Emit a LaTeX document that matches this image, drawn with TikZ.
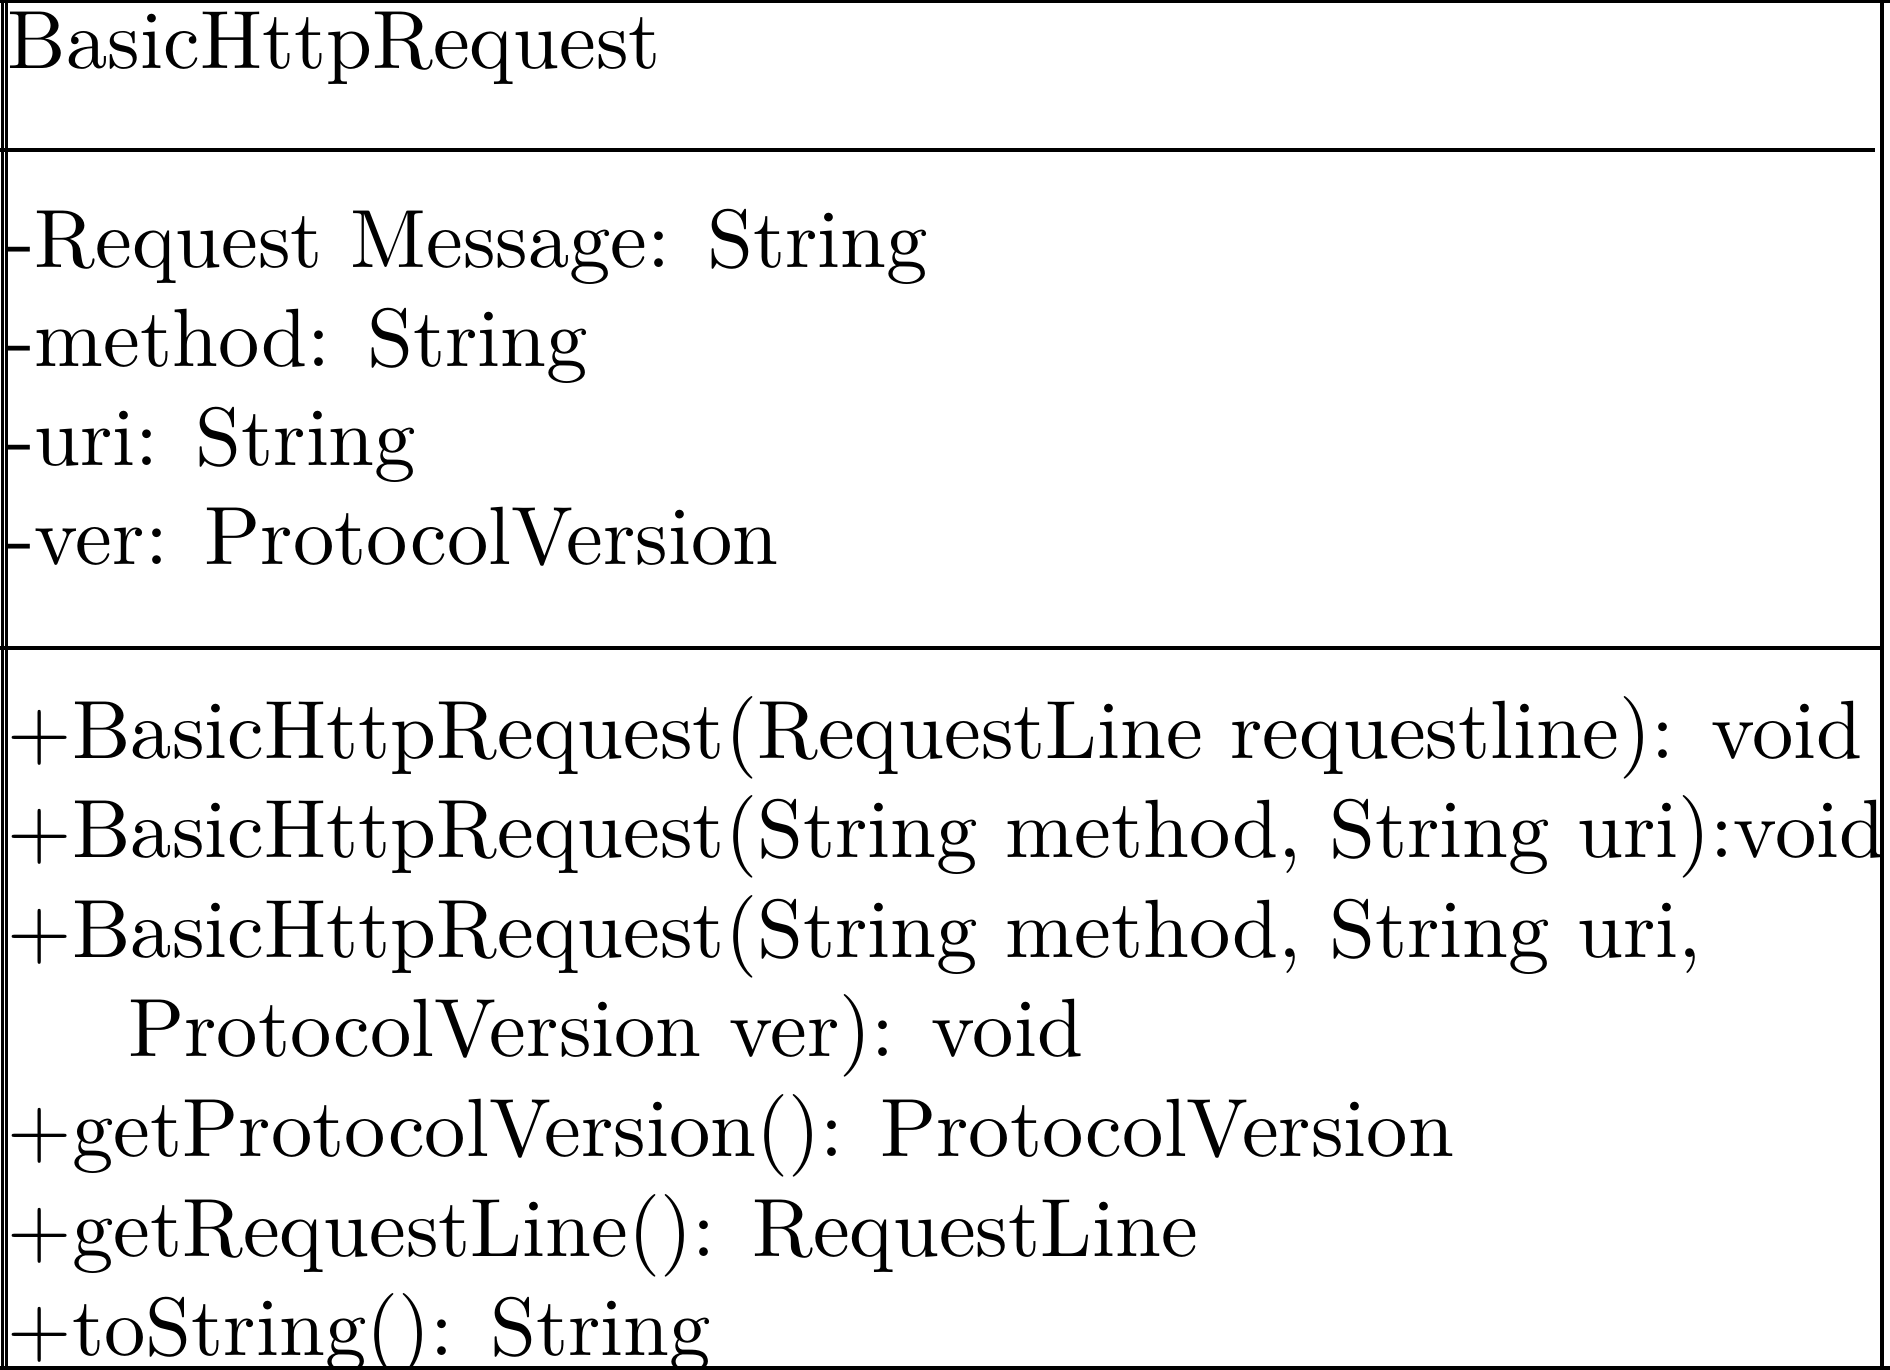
\documentclass[tikz,border=0pt]{standalone}
\tikzset{member/.style={inner sep=0,outer sep=0,anchor=base west}}
\begin{document}
\begin{tikzpicture}[x=0.1210pt,y=-0.1210pt,line width=0.4pt]
	\useasboundingbox (0,0) rectangle (1890,1370);
	\draw (2.7,0) -- (2.7,1370);
	\draw (6.7,0) -- (6.7,1370);
	\draw (0,1) -- (1890,1);
	\draw (1882,0) -- (1882,1370);
	\draw (0,1368) -- (1890,1368);
	\draw (0,150) -- (1875,150);
	\draw (0,648) -- (1882,648);
	\node[member] (name) at (8,69) {BasicHttpRequest};
	\node[member] (msg) at (7,268) {-Request Message: String};
	\node[member] (method) at (7,367) {-method: String};
	\node[member] (uri) at (7,466) {-uri: String};
	\node[member] (ver) at (7,565) {-ver: ProtocolVersion};
	\node[member] (ctor1) at (8,759) {+BasicHttpRequest(RequestLine requestline): void};
	\node[member] (ctor2) at (8,858) {+BasicHttpRequest(String method, String uri):void};
	\node[member] (ctor3) at (8,958) {+BasicHttpRequest(String method, String uri,};
	\node[member] (ctor3b) at (128,1057) {ProtocolVersion ver): void};
	\node[member] (getver) at (8,1157) {+getProtocolVersion(): ProtocolVersion};
	\node[member] (getline) at (8,1257) {+getRequestLine(): RequestLine};
	\node[member] (tostr) at (8,1356) {+toString(): String};
\end{tikzpicture}
\end{document}
